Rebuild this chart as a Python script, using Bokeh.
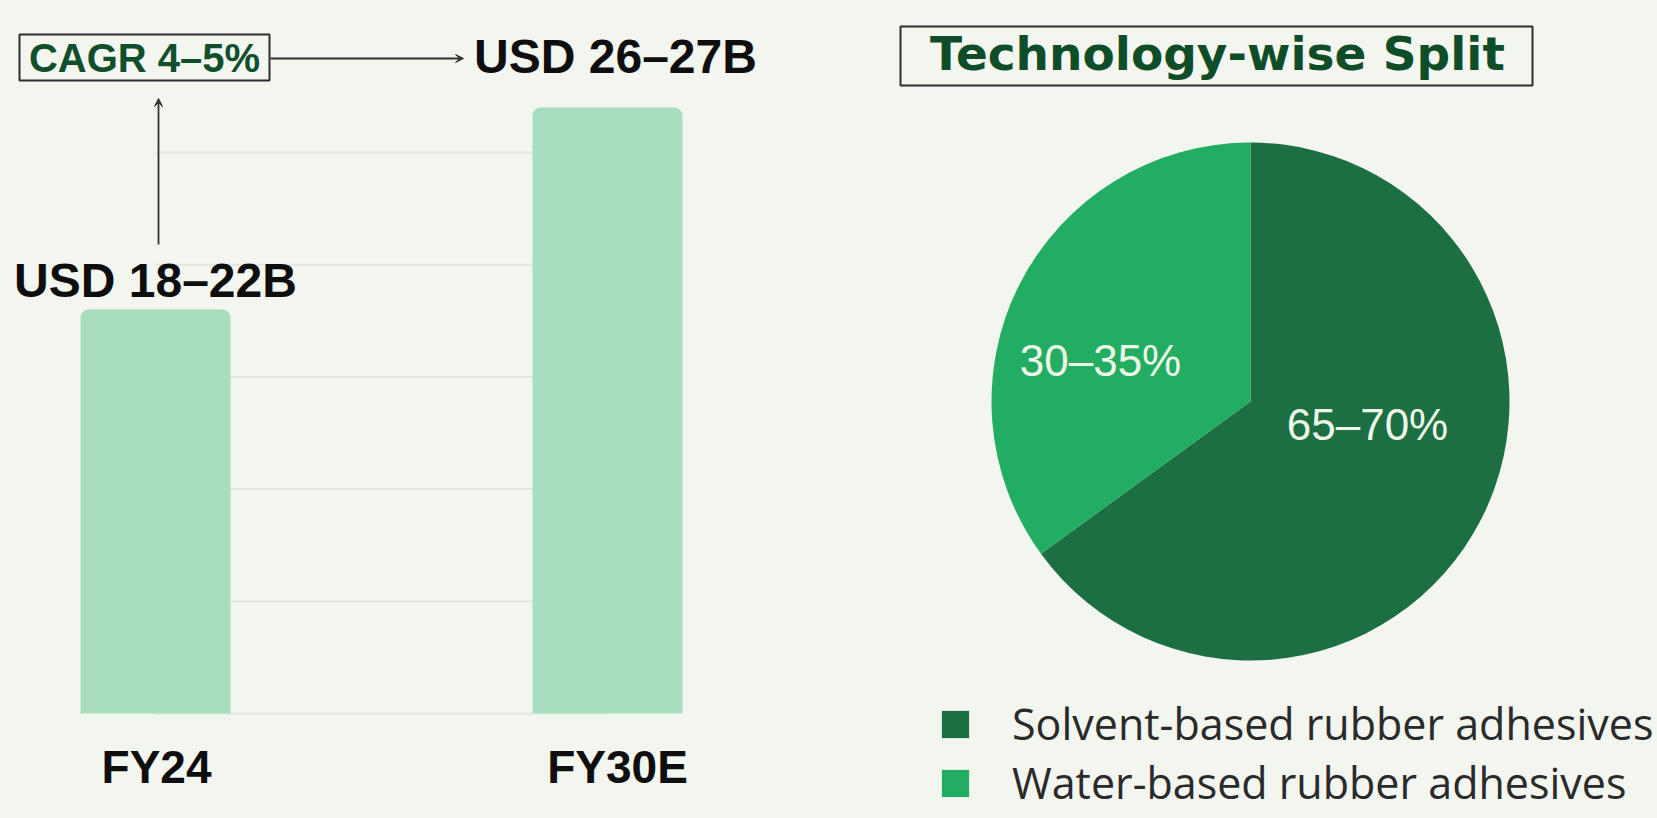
import math
from bokeh.plotting import figure
from bokeh.models import (Range1d, Label, Arrow, VeeHead, BoxAnnotation,
                          Legend, LegendItem, ColumnDataSource)
from bokeh.layouts import row
from bokeh.core.properties import value
from bokeh.embed import file_html
from bokeh.resources import INLINE

# ---------------- data ----------------
years = ["FY24", "FY30E"]
market_size = [18, 27]                      # USD B, bar heights as drawn
market_labels = ["USD 18–22B", "USD 26–27B"]
grid_values = [0, 5, 10, 15, 20, 25]
cagr_label = "CAGR 4–5%"

technologies = ["Solvent-based rubber adhesives", "Water-based rubber adhesives"]
tech_share = [65, 35]
tech_labels = ["65–70%", "30–35%"]
pie_title = "Technology-wise Split"

# ---------------- style / layout ----------------
BG = "#F3F5EF"
BAR = "#A8DDBF"
INK = "#0E0E0E"
ARROW = "#333333"
BOX_LINE = "#2E2E2E"
GREEN_TXT = "#0F4F2B"
PIE_COLORS = ["#1C6E43", "#22AD62"]
PIE_TXT = "#EEF7E8"

H = 818
LW = 830
RW = 1657 - LW

# left chart geometry (pixels inside the figure)
ZERO_PX = 713          # pixel row of value 0
CAT_STEP_PX = 452      # pixels between the two categories
FIRST_CAT_PX = 155     # pixel column of first category
PX_PER_UNIT = 22.44
BAR_W_PX = 150

x0 = -FIRST_CAT_PX / CAT_STEP_PX
xr = Range1d(x0, x0 + LW / CAT_STEP_PX)
yr = Range1d(-(H - ZERO_PX) / PX_PER_UNIT, ZERO_PX / PX_PER_UNIT)


def dx(px):
    return x0 + px / CAT_STEP_PX


def dy(py):
    return (ZERO_PX - py) / PX_PER_UNIT


p = figure(width=LW, height=H, x_range=xr, y_range=yr,
           x_axis_location=None, y_axis_location=None,
           toolbar_location=None, output_backend="svg", min_border=0,
           background_fill_color=BG, border_fill_color=BG, outline_line_color=None)
p.grid.visible = False

positions = list(range(len(years)))
bar_w = BAR_W_PX / CAT_STEP_PX

# faint guide lines between the bars
p.segment(x0=[positions[0]] * len(grid_values), x1=[positions[-1]] * len(grid_values),
          y0=grid_values, y1=grid_values, line_color="#E4E7E0", line_width=2)

bar_src = ColumnDataSource(dict(x=positions, top=market_size, label=market_labels,
                                year=years, base=[0] * len(years),
                                xo=[0, 8], yo=[-29, -51], fxo=[1, 10]))

try:
    p.vbar(x="x", top="top", width=bar_w, source=bar_src,
           fill_color=BAR, line_color=None, border_radius=(8, 8, 0, 0))
except Exception:
    p.vbar(x="x", top="top", width=bar_w, source=bar_src,
           fill_color=BAR, line_color=None)

# value labels above the bars
p.text(x="x", y="top", text="label", x_offset="xo", y_offset="yo", source=bar_src,
       text_align="center", text_baseline="middle",
       text_font=value("Liberation Sans"), text_font_style="bold",
       text_font_size="48px", text_color=INK)

# category labels under the bars
p.text(x="x", y="base", text="year", x_offset="fxo", y_offset=53, source=bar_src,
       text_align="center", text_baseline="middle",
       text_font=value("Liberation Sans"), text_font_style="bold",
       text_font_size="46px", text_color=INK)

# CAGR annotation
p.add_layout(BoxAnnotation(left=dx(19), right=dx(269), top=dy(34), bottom=dy(80),
                           fill_color=None, fill_alpha=0, line_color=BOX_LINE,
                           line_alpha=1.0, line_width=2))
p.add_layout(Label(x=dx(144), y=dy(57), text=cagr_label, text_align="center",
                   text_baseline="middle", text_font="Liberation Sans",
                   text_font_style="bold", text_font_size="40px", text_color=GREEN_TXT))
p.add_layout(Arrow(end=VeeHead(size=8, fill_color=ARROW, line_color=ARROW),
                   x_start=dx(270), y_start=dy(58), x_end=dx(463), y_end=dy(58),
                   line_color=ARROW, line_width=1.8))
p.add_layout(Arrow(end=VeeHead(size=8, fill_color=ARROW, line_color=ARROW),
                   x_start=dx(158), y_start=dy(244), x_end=dx(158), y_end=dy(98),
                   line_color=ARROW, line_width=1.8))

# ---------------- pie chart ----------------
CX = 1250 - LW   # pie centre, pixels from the figure's left
CY = 401         # pie centre, pixels from the figure's top
R = 259

q = figure(width=RW, height=H, x_range=Range1d(-CX, RW - CX), y_range=Range1d(-(H - CY), CY),
           x_axis_location=None, y_axis_location=None, toolbar_location=None,
           output_backend="svg", min_border=0,
           background_fill_color=BG, border_fill_color=BG, outline_line_color=None)
q.grid.visible = False

total = sum(tech_share)
cum = 0
starts, ends = [], []
for s in tech_share:
    a0 = math.pi / 2 - 2 * math.pi * cum / total
    cum += s
    a1 = math.pi / 2 - 2 * math.pi * cum / total
    starts.append(a1)
    ends.append(a0)

pie_src = ColumnDataSource(dict(tech=technologies, share=tech_share, start=starts, end=ends,
                                color=PIE_COLORS, label=tech_labels,
                                lx=[117, -150], ly=[-23, 41]))
wedges = q.wedge(x=0, y=0, radius=R, start_angle="start", end_angle="end",
                 fill_color="color", line_color=None, source=pie_src)

q.text(x="lx", y="ly", text="label", source=pie_src, text_align="center",
       text_baseline="middle", text_font=value("Liberation Sans"),
       text_font_size="44px", text_color=PIE_TXT)

# title box (pixel positions converted to the pie's data space)
q.add_layout(BoxAnnotation(left=900 - 1250, right=1532 - 1250, top=CY - 26, bottom=CY - 85,
                           fill_color=None, fill_alpha=0, line_color=BOX_LINE,
                           line_alpha=1.0, line_width=2))
q.add_layout(Label(x=1217 - 1250, y=CY - 53, text=pie_title, text_align="center",
                   text_baseline="middle", text_font="DejaVu Sans", text_font_style="bold",
                   text_font_size="47px", text_color="#0F4D29"))

legend = Legend(items=[LegendItem(label=technologies[i], renderers=[wedges], index=i)
                       for i in range(len(technologies))],
                location=(938 - LW, 6), orientation="vertical",
                glyph_width=34, glyph_height=34, label_standoff=40,
                label_text_font="Open Sans", label_text_font_size="43px",
                label_text_line_height=1.0,
                label_text_color="#2A2A2A", spacing=0, padding=0, margin=0,
                border_line_color=None, background_fill_alpha=0)
q.add_layout(legend)

layout = row(p, q, styles={"background-color": BG})
open("out.html", "w").write(file_html(layout, INLINE))
